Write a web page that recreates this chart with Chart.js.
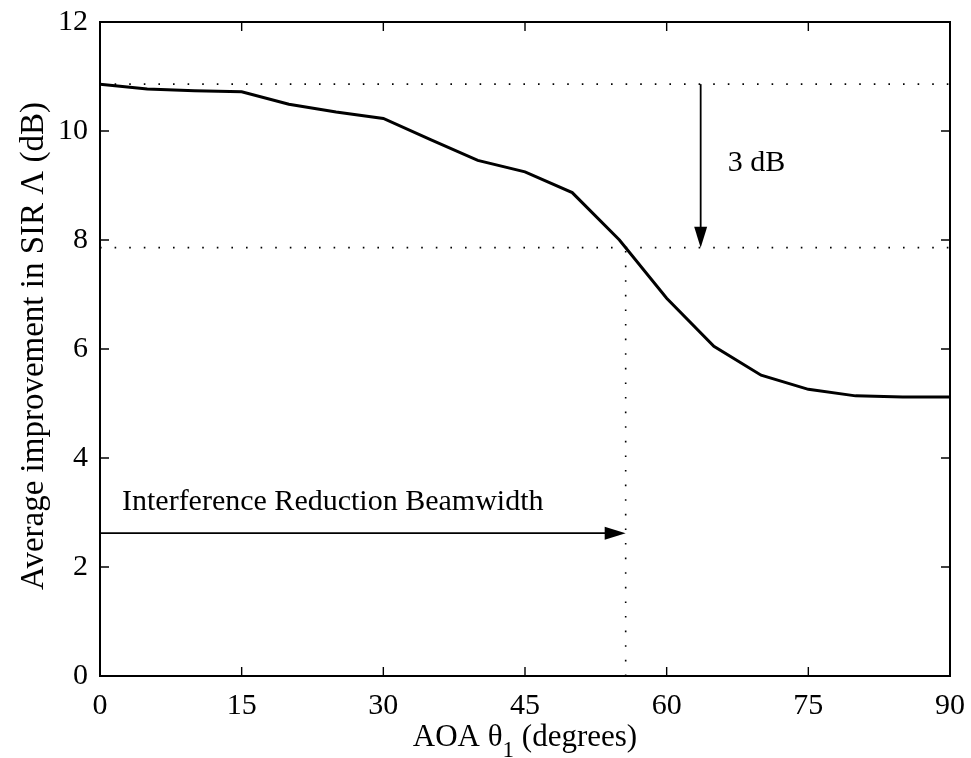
<!DOCTYPE html>
<html>
<head>
<meta charset="utf-8">
<script src="https://cdn.jsdelivr.net/npm/chart.js@4/dist/chart.umd.min.js"></script>
<style>
  html, body { margin: 0; padding: 0; background: #fff; }
  #wrap { width: 971px; height: 758px; position: relative; }
</style>
</head>
<body>
<div id="wrap"><canvas id="sirChart"></canvas></div>
<script>
// AOA values (degrees) and the measured SIR improvement (dB)
const aoaDeg = [0, 5, 10, 15, 20, 25, 30, 35, 40, 45, 50, 55, 60, 65, 70, 75, 80, 85, 90];
const sirGain = [10.86, 10.77, 10.74, 10.72, 10.49, 10.35, 10.23, 9.84, 9.46, 9.25, 8.87, 8.0, 6.93, 6.05, 5.52, 5.26, 5.14, 5.12, 5.12];

const xTicks = [0, 15, 30, 45, 60, 75, 90];
const yTicks = [0, 2, 4, 6, 8, 10, 12];

// annotation values (data units)
const peakLevel = 10.86;
const halfLevel = 7.86;       // peak - 3 dB
const beamEdge = 55.66;       // where the curve crosses the -3 dB level
const dropArrowX = 63.6;
const widthArrowY = 2.62;
const dropLabel = "3 dB";
const widthLabel = "Interference Reduction Beamwidth";

const FONT = "'Liberation Serif', 'Times New Roman', serif";
const FS = 30;

function arrowHead(ctx, x, y, dir) {
  // dir: 'down' or 'right'
  const len = 21, half = 6.5;
  ctx.beginPath();
  if (dir === "down") {
    ctx.moveTo(x, y);
    ctx.lineTo(x - half, y - len);
    ctx.lineTo(x + half, y - len);
  } else {
    ctx.moveTo(x, y);
    ctx.lineTo(x - len, y - half);
    ctx.lineTo(x - len, y + half);
  }
  ctx.closePath();
  ctx.fill();
}

const decorPlugin = {
  id: "decor",
  afterDatasetsDraw(chart) {
    const ctx = chart.ctx;
    const xs = chart.scales.x, ys = chart.scales.y;
    const a = chart.chartArea;
    ctx.save();

    // dotted reference lines
    ctx.strokeStyle = "#000";
    ctx.lineWidth = 1.6;
    ctx.setLineDash([1.6, 13]);
    ctx.beginPath();
    ctx.moveTo(xs.getPixelForValue(0), ys.getPixelForValue(peakLevel));
    ctx.lineTo(xs.getPixelForValue(90), ys.getPixelForValue(peakLevel));
    ctx.moveTo(xs.getPixelForValue(0), ys.getPixelForValue(halfLevel));
    ctx.lineTo(xs.getPixelForValue(90), ys.getPixelForValue(halfLevel));
    ctx.moveTo(xs.getPixelForValue(beamEdge), ys.getPixelForValue(0));
    ctx.lineTo(xs.getPixelForValue(beamEdge), ys.getPixelForValue(halfLevel));
    ctx.stroke();
    ctx.setLineDash([]);

    // 3 dB arrow
    ctx.fillStyle = "#000";
    ctx.lineWidth = 1.8;
    const ax = xs.getPixelForValue(dropArrowX);
    const ay0 = ys.getPixelForValue(peakLevel), ay1 = ys.getPixelForValue(halfLevel);
    ctx.beginPath();
    ctx.moveTo(ax, ay0);
    ctx.lineTo(ax, ay1 - 18);
    ctx.stroke();
    arrowHead(ctx, ax, ay1, "down");

    // beamwidth arrow
    const by = ys.getPixelForValue(widthArrowY);
    const bx0 = xs.getPixelForValue(0), bx1 = xs.getPixelForValue(beamEdge);
    ctx.beginPath();
    ctx.moveTo(bx0, by);
    ctx.lineTo(bx1 - 18, by);
    ctx.stroke();
    arrowHead(ctx, bx1, by, "right");

    // labels
    ctx.font = FS + "px " + FONT;
    ctx.textBaseline = "alphabetic";
    ctx.textAlign = "left";
    ctx.fillText(dropLabel, ax + 27, 171);
    ctx.fillText(widthLabel, 122, 510);

    // box and inward ticks
    ctx.lineWidth = 2;
    ctx.strokeRect(a.left, a.top, a.right - a.left, a.bottom - a.top);
    ctx.lineWidth = 1.4;
    const tl = 9;
    ctx.beginPath();
    xTicks.forEach(v => {
      const px = xs.getPixelForValue(v);
      ctx.moveTo(px, a.bottom); ctx.lineTo(px, a.bottom - tl);
      ctx.moveTo(px, a.top); ctx.lineTo(px, a.top + tl);
    });
    yTicks.forEach(v => {
      const py = ys.getPixelForValue(v);
      ctx.moveTo(a.left, py); ctx.lineTo(a.left + tl, py);
      ctx.moveTo(a.right, py); ctx.lineTo(a.right - tl, py);
    });
    ctx.stroke();

    // x axis title with subscript
    const main1 = "AOA \u03b8", sub = "1", main2 = " (degrees)";
    ctx.font = "31px " + FONT;
    const w1 = ctx.measureText(main1).width;
    const w3 = ctx.measureText(main2).width;
    ctx.font = "23px " + FONT;
    const w2 = ctx.measureText(sub).width;
    let tx = (a.left + a.right) / 2 - (w1 + w2 + w3) / 2;
    ctx.font = "31px " + FONT;
    ctx.fillText(main1, tx, 746);
    ctx.font = "23px " + FONT;
    ctx.fillText(sub, tx + w1, 757);
    ctx.font = "31px " + FONT;
    ctx.fillText(main2, tx + w1 + w2, 746);

    // y axis title
    ctx.translate(43, 346);
    ctx.rotate(-Math.PI / 2);
    ctx.textAlign = "center";
    ctx.font = "33px " + FONT;
    ctx.fillText("Average improvement in SIR \u039b (dB)", 0, 0);
    ctx.restore();
  }
};

new Chart(document.getElementById("sirChart").getContext("2d"), {
  type: "line",
  data: {
    datasets: [{
      data: aoaDeg.map((x, i) => ({ x: x, y: sirGain[i] })),
      borderColor: "#000",
      borderWidth: 3,
      pointRadius: 0,
      tension: 0,
      fill: false
    }]
  },
  options: {
    responsive: true,
    maintainAspectRatio: false,
    animation: false,
    devicePixelRatio: 1,
    layout: { padding: { top: 22, right: 21, left: 0, bottom: 0 } },
    plugins: {
      legend: { display: false },
      title: { display: false },
      tooltip: { enabled: false }
    },
    scales: {
      x: {
        type: "linear",
        min: 0,
        max: 90,
        afterBuildTicks: (s) => { s.ticks = xTicks.map(v => ({ value: v })); },
        afterFit: (s) => { s.height = 82; s.paddingLeft = 0; s.paddingRight = 0; },
        grid: { display: false, drawTicks: false },
        border: { display: false },
        ticks: { color: "#000", padding: 12, maxRotation: 0, font: { family: FONT, size: FS } }
      },
      y: {
        min: 0,
        max: 12,
        afterBuildTicks: (s) => { s.ticks = yTicks.map(v => ({ value: v })); },
        afterFit: (s) => { s.width = 100; s.paddingTop = 0; s.paddingBottom = 0; },
        grid: { display: false, drawTicks: false },
        border: { display: false },
        ticks: { color: "#000", padding: 12, font: { family: FONT, size: FS } }
      }
    }
  },
  plugins: [decorPlugin]
});
</script>
</body>
</html>
